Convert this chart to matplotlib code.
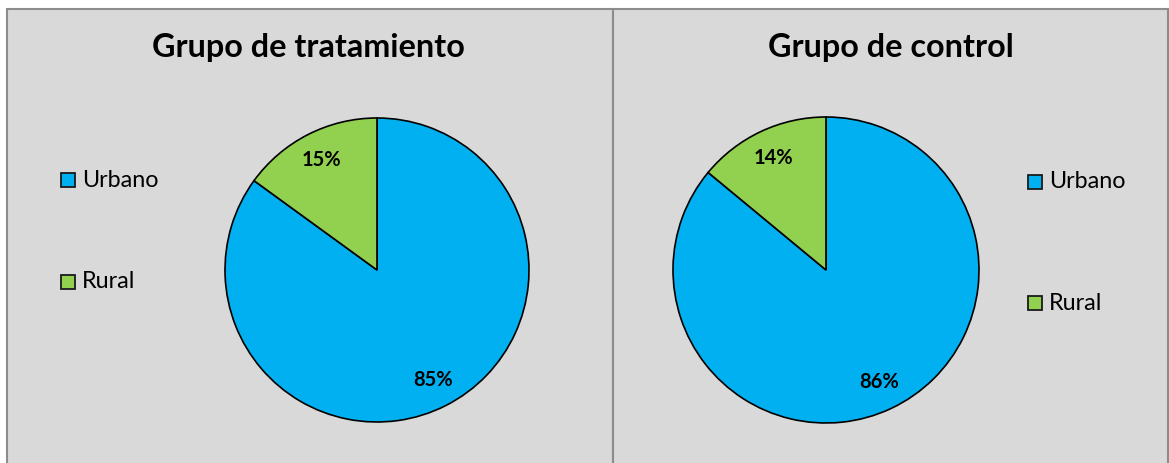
import matplotlib.pyplot as plt
from matplotlib.patches import Rectangle

plt.rcParams["font.family"] = ["Lato", "DejaVu Sans"]

W, H = 1169, 463

labels = ["Urbano", "Rural"]
colors = ["#00B0F0", "#92D050"]

titles = ["Grupo de tratamiento", "Grupo de control"]
treatment_pct = [85, 15]
control_pct = [86, 14]

fig = plt.figure(figsize=(W / 100, H / 100), dpi=100)


def px(x, y):
    # pixel coords (origin top-left) -> figure fraction
    return x / W, 1 - y / H


# gray panels with borders (bottom edge runs off the image)
for x0, x1 in [(7, 613), (613, 1168)]:
    fig.add_artist(Rectangle((x0 / W, -0.02), (x1 - x0) / W, 1.02 - 9 / H,
                             transform=fig.transFigure, facecolor="#D9D9D9",
                             edgecolor="#8C8C8C", linewidth=1.5, zorder=0))

panels = [
    dict(values=treatment_pct, title=titles[0], cx=377, cy=270, r=152,
         tx=308, leg_x=54, leg_y=(180, 282)),
    dict(values=control_pct, title=titles[1], cx=826, cy=270, r=153,
         tx=891, leg_x=1021, leg_y=(182, 303)),
]

for p in panels:
    left, bottom = px(p["cx"] - p["r"], p["cy"] + p["r"])
    ax = fig.add_axes([left, bottom, 2 * p["r"] / W, 2 * p["r"] / H])
    wedges, texts, autotexts = ax.pie(
        p["values"], colors=colors, startangle=90, counterclock=False,
        autopct="%1.0f%%", pctdistance=0.81,
        wedgeprops=dict(edgecolor="black", linewidth=1.2),
        textprops=dict(fontsize=14.5, fontweight="bold", color="black"),
    )
    ax.set_xlim(-1, 1)
    ax.set_ylim(-1, 1)

    fig.text(*px(p["tx"], 48), p["title"], ha="center", va="center",
             fontsize=23.3, fontweight="bold")

    for wedge, lab, ly in zip(wedges, labels, p["leg_y"]):
        sx, sy = px(p["leg_x"] + 7, ly + 7)
        fig.add_artist(Rectangle((sx, sy), 14 / W, 14 / H,
                                 transform=fig.transFigure,
                                 facecolor=wedge.get_facecolor(),
                                 edgecolor="#1a1a1a", linewidth=1.3))
        fig.text(*px(p["leg_x"] + 28, ly), lab, ha="left", va="center",
                 fontsize=16.8)

fig.savefig("out.png", dpi=100)
